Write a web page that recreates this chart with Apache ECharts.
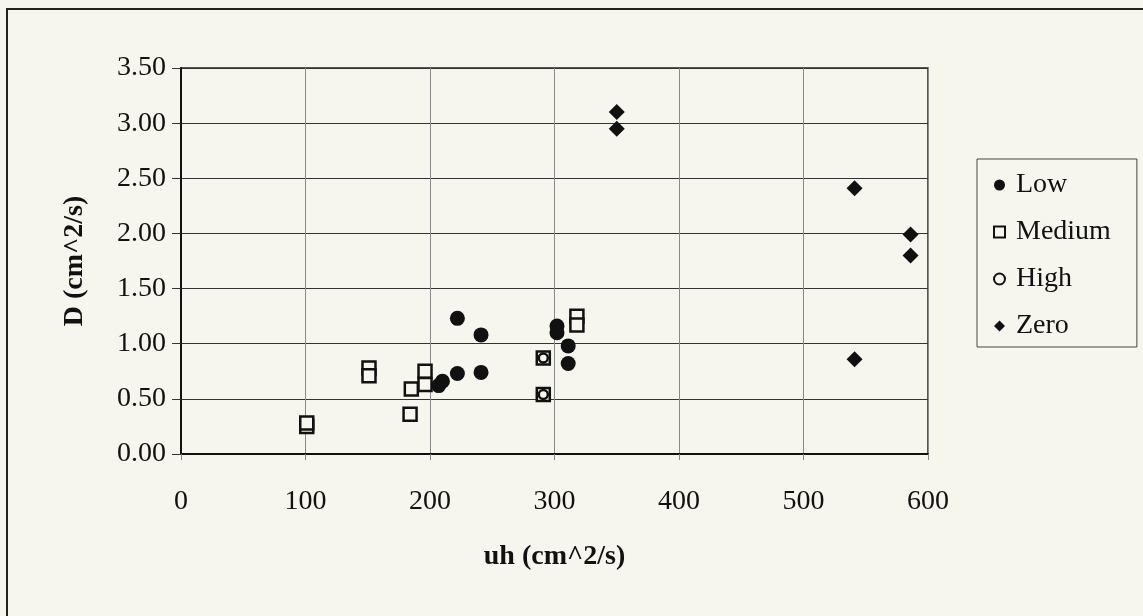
<!DOCTYPE html>
<html>
<head>
<meta charset="utf-8">
<script src="https://cdn.jsdelivr.net/npm/echarts@6/dist/echarts.min.js"></script>
<style>
  html, body { margin: 0; padding: 0; background: #f6f6ef; }
  #chart { width: 1143px; height: 616px; }
</style>
</head>
<body>
<div id="chart"></div>
<script>
var lowX = [222, 241, 302, 302, 311, 311, 222, 241, 207, 210];
var lowY = [1.23, 1.08, 1.16, 1.10, 0.98, 0.82, 0.73, 0.74, 0.62, 0.66];
var mediumX = [101, 101, 151, 151, 185, 184, 196, 196, 291, 291, 318, 318];
var mediumY = [0.25, 0.28, 0.78, 0.71, 0.59, 0.36, 0.75, 0.63, 0.87, 0.54, 1.25, 1.17];
var highX = [291, 291];
var highY = [0.87, 0.54];
var zeroX = [350, 350, 541, 586, 586, 541];
var zeroY = [3.10, 2.95, 2.41, 1.99, 1.80, 0.86];

var serif = 'Liberation Serif';
var bg = '#f6f6ef';
var ink = '#111';

function pairs(xs, ys) {
    return xs.map(function (x, i) { return [x, ys[i]]; });
}

var myChart = echarts.init(document.getElementById('chart'));
var option = {
    backgroundColor: bg,
    animation: false,
    graphic: [{
        type: 'rect',
        shape: { x: 7, y: 9, width: 1150, height: 620 },
        style: { fill: 'none', stroke: '#222', lineWidth: 2 }
    }],
    grid: {
        left: 181,
        right: 215,
        top: 68,
        bottom: 162,
        show: true,
        borderColor: '#222',
        borderWidth: 1.5,
        backgroundColor: 'transparent'
    },
    legend: {
        orient: 'vertical',
        left: 977,
        top: 159,
        padding: [12, 26, 7, 16],
        itemGap: 19,
        itemWidth: 11,
        itemHeight: 11,
        borderColor: '#444',
        borderWidth: 1,
        textStyle: { fontFamily: serif, fontSize: 28, color: ink, padding: [0, 0, 0, 6] },
        data: ['Low', 'Medium', 'High', 'Zero']
    },
    xAxis: {
        type: 'value',
        min: 0,
        max: 600,
        interval: 100,
        name: 'uh (cm^2/s)',
        nameLocation: 'middle',
        nameGap: 89,
        nameTextStyle: { fontFamily: serif, fontSize: 28, fontWeight: 'bold', color: ink },
        axisLine: { show: true, lineStyle: { color: ink, width: 2 } },
        axisTick: { show: true, length: 6, lineStyle: { color: '#888' } },
        axisLabel: { margin: 34, fontFamily: serif, fontSize: 28, color: ink },
        splitLine: { show: true, lineStyle: { color: '#8a8a8a', width: 1 } }
    },
    yAxis: {
        type: 'value',
        min: 0,
        max: 3.5,
        interval: 0.5,
        name: 'D (cm^2/s)',
        nameLocation: 'middle',
        nameGap: 92,
        nameTextStyle: { fontFamily: serif, fontSize: 28, fontWeight: 'bold', color: ink },
        axisLine: { show: true, lineStyle: { color: ink, width: 2 } },
        axisTick: { show: true, length: 9, lineStyle: { color: '#333' } },
        axisLabel: {
            margin: 15,
            fontFamily: serif,
            fontSize: 28,
            color: ink,
            formatter: function (v) { return v.toFixed(2); }
        },
        splitLine: { show: true, lineStyle: { color: '#333', width: 1.2 } }
    },
    series: [{
        name: 'Low',
        type: 'scatter',
        symbol: 'circle',
        symbolSize: 15,
        itemStyle: { color: ink, opacity: 1 },
        data: pairs(lowX, lowY)
    }, {
        name: 'Medium',
        type: 'scatter',
        symbol: 'rect',
        symbolSize: 13,
        itemStyle: { color: bg, borderColor: ink, borderWidth: 2.5, opacity: 1 },
        data: pairs(mediumX, mediumY)
    }, {
        name: 'High',
        type: 'scatter',
        symbol: 'circle',
        symbolSize: 9,
        itemStyle: { color: bg, borderColor: ink, borderWidth: 2.5, opacity: 1 },
        data: pairs(highX, highY)
    }, {
        name: 'Zero',
        type: 'scatter',
        symbol: 'diamond',
        symbolSize: [16, 16],
        itemStyle: { color: ink, opacity: 1 },
        data: pairs(zeroX, zeroY)
    }]
};
myChart.setOption(option);
</script>
</body>
</html>
